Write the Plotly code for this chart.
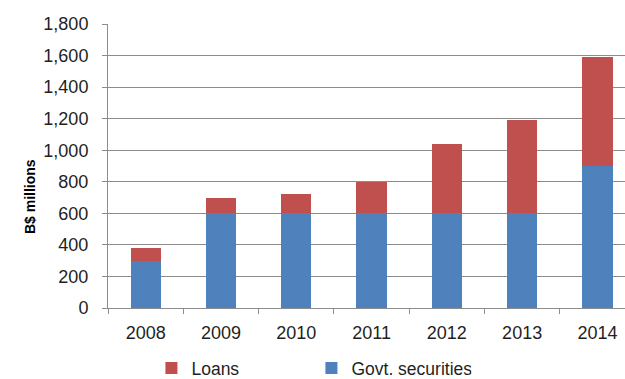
import plotly.graph_objects as go

# Stacked composition by year (B$ millions)
years = ["2008", "2009", "2010", "2011", "2012", "2013", "2014"]
govt_securities = [300, 600, 600, 600, 600, 600, 900]
loans = [80, 100, 125, 200, 440, 590, 690]
y_ticks = [0, 200, 400, 600, 800, 1000, 1200, 1400, 1600, 1800]
y_tick_text = [f"{v:,}" for v in y_ticks]

BLUE = "#4F81BD"
RED = "#C0504D"
GRID = "#8c8c8c"
TEXT = "#1f1f1f"
FONT = "Liberation Sans, Arial, sans-serif"

fig = go.Figure()
fig.add_trace(go.Bar(x=years, y=govt_securities, name="Govt. securities",
                     marker=dict(color=BLUE, line=dict(width=0)), width=0.4))
fig.add_trace(go.Bar(x=years, y=loans, name="Loans",
                     marker=dict(color=RED, line=dict(width=0)), width=0.4))

fig.update_layout(
    width=625, height=379,
    barmode="stack",
    paper_bgcolor="white", plot_bgcolor="white",
    margin=dict(l=108, r=0, t=24, b=71, autoexpand=False),
    font=dict(family=FONT, size=18, color=TEXT),
    showlegend=True,
    legend=dict(orientation="h", traceorder="reversed",
                x=0.084, xanchor="left", y=-0.148, yanchor="top",
                font=dict(size=17.5, color=TEXT),
                entrywidth=115, entrywidthmode="pixels",
                itemwidth=30, bgcolor="rgba(0,0,0,0)"),
)

fig.update_xaxes(
    type="category", range=[-0.5, 6.366],
    showline=True, linecolor=GRID, linewidth=1,
    ticks="outside", tickson="boundaries", ticklen=5, tickcolor=GRID,
    showgrid=False, ticklabelstandoff=8,
    tickfont=dict(size=18, color=TEXT),
)
fig.update_yaxes(
    range=[0, 1800], tickvals=y_ticks, ticktext=y_tick_text,
    showline=True, linecolor=GRID, linewidth=1,
    ticks="outside", ticklen=5, tickcolor=GRID,
    showgrid=True, gridcolor=GRID, gridwidth=1,
    zeroline=False, ticklabelstandoff=10,
    tickfont=dict(size=18, color=TEXT),
)

fig.add_annotation(
    text="<b>B$ millions</b>", textangle=-90,
    xref="paper", yref="paper", x=-0.170, y=0.391,
    showarrow=False, font=dict(family=FONT, size=14, color="#000000"),
)

fig.write_html("out.html")
